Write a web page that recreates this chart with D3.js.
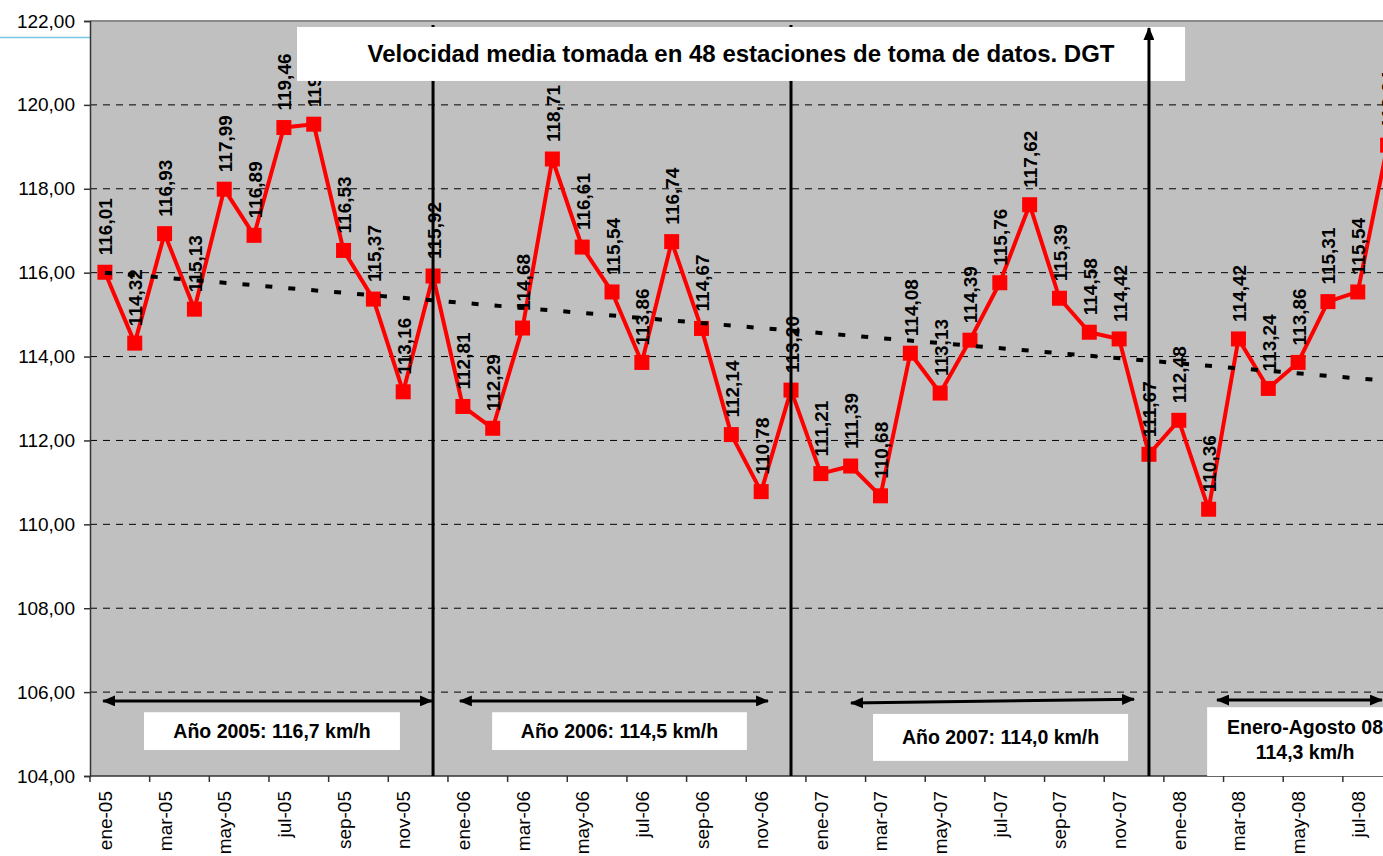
<!DOCTYPE html>
<html>
<head>
<meta charset="utf-8">
<script src="https://cdn.jsdelivr.net/npm/d3@7"></script>
<style>
  body { margin: 0; background: #fff; }
  svg { display: block; font-family: "Liberation Sans", Arial, sans-serif; }
</style>
</head>
<body>
<svg id="chart" width="1383" height="856"></svg>
<script>
// meses (ene-05 .. ago-08)
const categories = [
  'ene-05','feb-05','mar-05','abr-05','may-05','jun-05','jul-05','ago-05','sep-05','oct-05','nov-05','dic-05',
  'ene-06','feb-06','mar-06','abr-06','may-06','jun-06','jul-06','ago-06','sep-06','oct-06','nov-06','dic-06',
  'ene-07','feb-07','mar-07','abr-07','may-07','jun-07','jul-07','ago-07','sep-07','oct-07','nov-07','dic-07',
  'ene-08','feb-08','mar-08','abr-08','may-08','jun-08','jul-08','ago-08'
];
// velocidad media km/h
const velocidad = [
  116.01,114.32,116.93,115.13,117.99,116.89,119.46,119.54,116.53,115.37,113.16,115.92,
  112.81,112.29,114.68,118.71,116.61,115.54,113.86,116.74,114.67,112.14,110.78,113.20,
  111.21,111.39,110.68,114.08,113.13,114.39,115.76,117.62,115.39,114.58,114.42,111.67,
  112.48,110.36,114.42,113.24,113.86,115.31,115.54,119.04
];
// linea de tendencia (extremos)
const tendencia = [['ene-05', 116.00], ['ago-08', 113.42]];
const yTicks = [104,106,108,110,112,114,116,118,120,122];
const xTickLabels = categories.filter((c, i) => i % 2 === 0);
const finAnyo = ['dic-05','dic-06','dic-07'];
const tituloTxt = 'Velocidad media tomada en 48 estaciones de toma de datos. DGT';
const anyoTxt = [['Año 2005: 116,7 km/h'], ['Año 2006: 114,5 km/h'], ['Año 2007: 114,0 km/h'], ['Enero-Agosto 08', '114,3 km/h']];

const fmt = d => d.toFixed(2).replace('.', ',');

const svg = d3.select('#chart');
const pLeft = 90, pTop = 21, pBottom = 776, bw = 29.83;
const pRight = pLeft + categories.length * bw;

const x = d3.scaleBand().domain(categories).range([pLeft, pRight]).padding(0);
const cx = c => x(c) + x.bandwidth() / 2;
// posicion fraccionaria en meses
const xi = d3.scaleLinear().domain([0, categories.length]).range([pLeft, pRight]);
const y = d3.scaleLinear().domain([104, 122]).range([pBottom, pTop]);

// linea azul suelta arriba a la izquierda
svg.append('line').attr('x1', 0).attr('x2', pLeft).attr('y1', 37.5).attr('y2', 37.5)
  .attr('stroke', '#79c6e6').attr('stroke-width', 1.5);

// fondo
svg.append('rect').attr('x', pLeft).attr('y', pTop).attr('width', pRight - pLeft).attr('height', pBottom - pTop)
  .attr('fill', '#c0c0c0');
svg.append('line').attr('x1', pLeft).attr('x2', pRight).attr('y1', pTop).attr('y2', pTop)
  .attr('stroke', '#8a8a8a').attr('stroke-width', 2);

// rejilla
svg.append('g').selectAll('line').data(yTicks.filter(d => d > 104 && d < 122)).join('line')
  .attr('x1', pLeft).attr('x2', pRight).attr('y1', d => y(d)).attr('y2', d => y(d))
  .attr('stroke', '#000').attr('stroke-width', 1).attr('stroke-dasharray', '7,6');

// eje y
const gy = svg.append('g').attr('transform', `translate(${pLeft},0)`)
  .call(d3.axisLeft(y).tickValues(yTicks).tickSize(6).tickPadding(9).tickFormat(fmt));
gy.select('.domain').attr('stroke', '#333').attr('stroke-width', 1.5);
gy.selectAll('.tick line').attr('stroke', '#333').attr('stroke-width', 1.5);
gy.selectAll('text').attr('font-size', 19).attr('fill', '#000').attr('font-family', '"Liberation Sans", Arial, sans-serif');

// eje x
svg.append('line').attr('x1', pLeft).attr('x2', pRight).attr('y1', pBottom).attr('y2', pBottom)
  .attr('stroke', '#333').attr('stroke-width', 1.5);
svg.append('g').selectAll('line').data(xTickLabels).join('line')
  .attr('x1', d => x(d)).attr('x2', d => x(d)).attr('y1', pBottom).attr('y2', pBottom + 6)
  .attr('stroke', '#333').attr('stroke-width', 1.5);
svg.append('g').selectAll('text').data(xTickLabels).join('text')
  .attr('transform', d => `translate(${cx(d) + 7},791) rotate(-90)`)
  .attr('text-anchor', 'end').attr('font-size', 19).text(d => d);

// serie
const serie = categories.map((c, i) => ({ c, v: velocidad[i] }));
svg.append('path').datum(serie)
  .attr('d', d3.line().x(d => cx(d.c)).y(d => y(d.v)))
  .attr('fill', 'none').attr('stroke', '#ff0000').attr('stroke-width', 4).attr('stroke-linejoin', 'round');
svg.append('g').selectAll('rect').data(serie).join('rect')
  .attr('x', d => cx(d.c) - 7.5).attr('y', d => y(d.v) - 7.5).attr('width', 15).attr('height', 15)
  .attr('fill', '#ff0000');

// tendencia
svg.append('path').datum(tendencia)
  .attr('d', d3.line().x(d => cx(d[0])).y(d => y(d[1])))
  .attr('stroke', '#000').attr('stroke-width', 4).attr('stroke-dasharray', '7,16').attr('fill', 'none');

// etiquetas de datos
svg.append('g').selectAll('text').data(serie).join('text')
  .attr('transform', d => `translate(${cx(d.c) + 7.5},${y(d.v) - 17}) rotate(-90)`)
  .attr('font-size', 19).attr('font-weight', 'bold').text(d => fmt(d.v));

// flechas
const defs = svg.append('defs');
defs.append('marker').attr('id', 'head').attr('viewBox', '0 0 13 11')
  .attr('markerWidth', 13).attr('markerHeight', 11).attr('refX', 12).attr('refY', 5.5)
  .attr('markerUnits', 'userSpaceOnUse').attr('orient', 'auto-start-reverse')
  .append('path').attr('d', 'M0,0L13,5.5L0,11Z').attr('fill', '#000');

// separadores de año
finAnyo.slice(0, 2).forEach(c => {
  svg.append('line').attr('x1', cx(c)).attr('x2', cx(c)).attr('y1', pBottom).attr('y2', 25)
    .attr('stroke', '#000').attr('stroke-width', 3);
});

// titulo
svg.append('rect').attr('x', xi(6.94)).attr('y', y(121.857))
  .attr('width', xi(36.71) - xi(6.94)).attr('height', y(120.571) - y(121.857)).attr('fill', '#fff');
svg.append('text').attr('x', (xi(6.94) + xi(36.71)) / 2).attr('y', 62)
  .attr('text-anchor', 'middle').attr('font-size', 24).attr('font-weight', 'bold').text(tituloTxt);

svg.append('line').attr('x1', cx(finAnyo[2])).attr('x2', cx(finAnyo[2])).attr('y1', pBottom).attr('y2', 28)
  .attr('stroke', '#000').attr('stroke-width', 3).attr('marker-end', 'url(#head)');

// anotaciones por año
const flechas = [
  [0.44, 105.79, 11.46, 105.79],
  [12.40, 105.79, 22.73, 105.79],
  [25.51, 105.74, 35.0, 105.83],
  [37.78, 105.81, 43.31, 105.81]
];
const cajas = [
  [1.81, 105.52, 10.39, 104.62],
  [13.48, 105.52, 22.02, 104.62],
  [26.25, 105.48, 34.80, 104.36],
  [37.45, 105.64, 44.5, 104.0]
];
flechas.forEach(f => {
  svg.append('line').attr('x1', xi(f[0])).attr('y1', y(f[1])).attr('x2', xi(f[2])).attr('y2', y(f[3]))
    .attr('stroke', '#000').attr('stroke-width', 3)
    .attr('marker-start', 'url(#head)').attr('marker-end', 'url(#head)');
});
cajas.forEach((b, i) => {
  const x0 = xi(b[0]), x1 = xi(b[2]), y0 = y(b[1]), y1 = y(b[3]);
  svg.append('rect').attr('x', x0).attr('y', y0).attr('width', x1 - x0).attr('height', y1 - y0).attr('fill', '#fff');
  const lines = anyoTxt[i];
  const xc = i === 3 ? 1305 : (x0 + x1) / 2;
  const yc = i === 3 ? y0 + 27 : (y0 + y1) / 2 + 7;
  lines.forEach((t, k) => {
    svg.append('text').attr('x', xc).attr('y', yc + k * 25)
      .attr('text-anchor', 'middle').attr('font-size', 19.5).attr('font-weight', 'bold').text(t);
  });
});
</script>
</body>
</html>
